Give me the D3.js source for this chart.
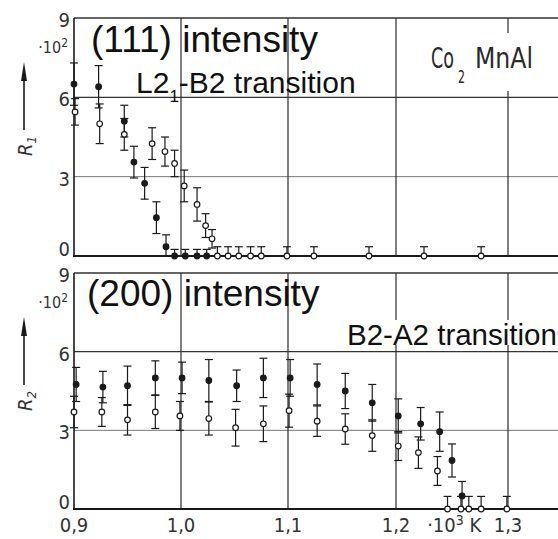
<!DOCTYPE html>
<html>
<head>
<meta charset="utf-8">
<script src="https://cdn.jsdelivr.net/npm/d3@7"></script>
<style>
  body { margin: 0; background: #fff; }
  svg { display: block; }
</style>
</head>
<body>
<svg id="chart" width="558" height="539"></svg>
<script>
// axis ticks
const xTicks = [0.9, 1.0, 1.1, 1.2, 1.3];
const xTickLabels = ["0,9", "1,0", "1,1", "1,2", "1,3"];
const yTicks = [0, 3, 6, 9];

// R1, (111) intensity - filled points
const r1FilledT = [0.900, 0.923, 0.947, 0.956, 0.966, 0.977, 0.986, 0.994, 1.004, 1.015, 1.024];
const r1FilledV = [6.5, 6.4, 5.1, 3.55, 2.75, 1.45, 0.35, 0, 0, 0, 0];
const r1FilledE = [0.8, 0.8, 0.6, 0.6, 0.6, 0.6, 0.45, 0.25, 0.25, 0.25, 0.25];

// R1 - open points
const r1OpenT = [0.901, 0.924, 0.947, 0.973, 0.985, 0.994, 1.003, 1.015, 1.023, 1.029,
                 1.034, 1.044, 1.054, 1.065, 1.075, 1.099, 1.124, 1.175, 1.225, 1.276];
const r1OpenV = [5.45, 5.0, 4.6, 4.25, 3.95, 3.5, 2.65, 1.95, 1.15, 0.65,
                 0, 0, 0, 0, 0, 0, 0, 0, 0, 0];
const r1OpenE = [0.5, 0.75, 0.6, 0.6, 0.55, 0.5, 0.6, 0.63, 0.45, 0.35,
                 0.35, 0.35, 0.35, 0.35, 0.35, 0.35, 0.35, 0.35, 0.35, 0.35];

// R2, (200) intensity - filled points
const r2FilledT = [0.902, 0.927, 0.950, 0.976, 1.001, 1.026, 1.052, 1.077, 1.102, 1.127,
                   1.153, 1.178, 1.202, 1.222, 1.239, 1.250, 1.259];
const r2FilledV = [4.75, 4.65, 4.7, 5.0, 5.0, 4.9, 4.7, 5.0, 5.0, 4.75,
                   4.5, 4.05, 3.55, 3.25, 2.95, 1.85, 0.5];
const r2FilledE = [0.65, 0.6, 0.75, 0.65, 0.6, 0.8, 0.6, 0.75, 0.7, 0.78,
                   0.67, 0.7, 0.65, 0.62, 0.75, 0.63, 0.55];

// R2 - open points
const r2OpenT = [0.900, 0.926, 0.950, 0.976, 0.999, 1.026, 1.051, 1.077, 1.101, 1.127,
                 1.153, 1.178, 1.202, 1.220, 1.237, 1.246, 1.258, 1.265, 1.276, 1.299];
const r2OpenV = [3.7, 3.7, 3.4, 3.7, 3.55, 3.45, 3.1, 3.25, 3.75, 3.35,
                 3.05, 2.8, 2.4, 2.15, 1.45, 0, 0, 0, 0, 0];
const r2OpenE = [0.6, 0.55, 0.58, 0.63, 0.55, 0.63, 0.7, 0.68, 0.63, 0.58,
                 0.58, 0.6, 0.55, 0.6, 0.55, 0.48, 0.48, 0.48, 0.48, 0.48];

const width = 558, height = 539;
const svg = d3.select("#chart");
const ink = "#1a1a1a";
const narrow = "'Liberation Sans Narrow', 'DejaVu Sans Condensed', 'DejaVu Sans', sans-serif";
const arial = "'Liberation Sans', Arial, sans-serif";

// the scanned axis is a little uneven, so each decade gets its own stretch
const x = d3.scaleLinear().domain(xTicks).range([74, 181, 288, 396, 508]);

const panels = [
  { top: 18, bottom: 256, sub: "1", title: "(111) intensity", titleX: 91, titleY: 52,
    filled: [r1FilledT, r1FilledV, r1FilledE], open: [r1OpenT, r1OpenV, r1OpenE] },
  { top: 273, bottom: 509, sub: "2", title: "(200) intensity", titleX: 87, titleY: 306,
    filled: [r2FilledT, r2FilledV, r2FilledE], open: [r2OpenT, r2OpenV, r2OpenE] }
];

function toPoints(s) {
  return s[0].map((t, i) => ({ t: t, v: s[1][i], e: s[2][i] }));
}

function drawPanel(p) {
  const y = d3.scaleLinear().domain([0, 9]).range([p.bottom, p.top]);
  const g = svg.append("g");
  p.g = g; p.y = y;

  // grid
  g.selectAll(".hgrid").data([3, 6]).join("line")
    .attr("x1", x(0.9)).attr("x2", width)
    .attr("y1", d => y(d)).attr("y2", d => y(d))
    .attr("stroke", d => d === 3 ? "#777" : "#333")
    .attr("stroke-width", d => d === 3 ? 1 : 1.2);

  g.selectAll(".vgrid").data(xTicks.slice(1)).join("line")
    .attr("x1", d => x(d)).attr("x2", d => x(d))
    .attr("y1", p.top).attr("y2", p.bottom)
    .attr("stroke", "#2a2a2a").attr("stroke-width", 1.2);

  // frame
  g.append("line").attr("x1", x(0.9)).attr("x2", width).attr("y1", p.top).attr("y2", p.top)
    .attr("stroke", "#333").attr("stroke-width", 1.4);
  g.append("line").attr("x1", x(0.9)).attr("x2", x(0.9)).attr("y1", p.top).attr("y2", p.bottom)
    .attr("stroke", ink).attr("stroke-width", 1.6);
  g.append("line").attr("x1", x(0.9) - 1).attr("x2", width).attr("y1", p.bottom).attr("y2", p.bottom)
    .attr("stroke", ink).attr("stroke-width", 2.2);

  // y tick labels
  g.selectAll(".ylab").data(yTicks).join("text")
    .attr("x", 70)
    .attr("y", d => d === 0 ? y(d) : y(d) + 9)
    .attr("text-anchor", "end")
    .attr("font-family", narrow).attr("font-stretch", "condensed")
    .attr("font-size", 20).attr("fill", "#333")
    .text(d => d);

  const pow = g.append("text")
    .attr("x", 68).attr("y", p.top + 35)
    .attr("text-anchor", "end")
    .attr("font-family", narrow).attr("font-stretch", "condensed")
    .attr("font-size", 16).attr("fill", "#333");
  pow.append("tspan").text("·10");
  pow.append("tspan").attr("dy", -6).attr("font-size", 12).text("2");

  // R arrow
  g.append("line").attr("x1", 24).attr("x2", 24)
    .attr("y1", p.top + 60).attr("y2", p.top + 112)
    .attr("stroke", ink).attr("stroke-width", 1.6);
  g.append("path")
    .attr("d", `M24,${p.top + 44} L27,${p.top + 63} L21,${p.top + 63} Z`)
    .attr("fill", ink);

  const rl = g.append("text")
    .attr("transform", `translate(32,${p.top + 138}) rotate(-90)`)
    .attr("font-family", narrow).attr("font-style", "italic")
    .attr("font-size", 20).attr("fill", "#333");
  rl.append("tspan").text("R");
  rl.append("tspan").attr("dy", 4).attr("font-size", 13).text(p.sub);

  // title
  g.append("text")
    .attr("x", p.titleX).attr("y", p.titleY)
    .attr("font-family", arial).attr("font-size", 37).attr("fill", "#111")
    .text(p.title);
}

function drawSeries(p) {
  const y = p.y;
  const all = [
    { pts: toPoints(p.filled), fill: ink },
    { pts: toPoints(p.open), fill: "#fff" }
  ];
  const layer = p.g.append("g");

  all.forEach(s => {
    const bars = layer.append("g").selectAll("g").data(s.pts).join("g")
      .attr("stroke", ink).attr("stroke-width", 1.2);
    bars.append("line")
      .attr("x1", d => x(d.t)).attr("x2", d => x(d.t))
      .attr("y1", d => y(d.v + d.e)).attr("y2", d => y(Math.max(0, d.v - d.e)));
    bars.append("line")
      .attr("x1", d => x(d.t) - 4).attr("x2", d => x(d.t) + 4)
      .attr("y1", d => y(d.v + d.e)).attr("y2", d => y(d.v + d.e));
    bars.filter(d => d.v - d.e > 0).append("line")
      .attr("x1", d => x(d.t) - 4).attr("x2", d => x(d.t) + 4)
      .attr("y1", d => y(d.v - d.e)).attr("y2", d => y(d.v - d.e));
  });

  all.forEach(s => {
    layer.append("g").selectAll("circle").data(s.pts).join("circle")
      .attr("cx", d => x(d.t)).attr("cy", d => y(d.v))
      .attr("r", 2.8)
      .attr("fill", s.fill).attr("stroke", ink).attr("stroke-width", 1.2);
  });
}

panels.forEach(drawPanel);
panels.forEach(drawSeries);

const topPanel = panels[0], botPanel = panels[1];

// top annotations
const l2 = topPanel.g.append("text")
  .attr("x", 136).attr("y", 93)
  .attr("font-family", arial).attr("font-size", 30).attr("fill", "#111");
l2.append("tspan").text("L2");
l2.append("tspan").attr("dy", 9).attr("font-size", 17).text("1");
l2.append("tspan").attr("dy", -9).text("-B2 transition");

// compound name, set in three pieces so the subscript sits tight
const compound = topPanel.g.append("g")
  .attr("font-family", narrow).attr("font-stretch", "condensed").attr("font-weight", 300)
  .attr("fill", "#2a2a2a");
compound.append("text").attr("x", 431).attr("y", 68).attr("font-size", 29)
  .attr("textLength", 23).attr("lengthAdjust", "spacingAndGlyphs").text("Co");
compound.append("text").attr("x", 458).attr("y", 83).attr("font-size", 18)
  .attr("textLength", 7).attr("lengthAdjust", "spacingAndGlyphs").text("2");
compound.append("text").attr("x", 475).attr("y", 68).attr("font-size", 29)
  .attr("textLength", 58).attr("lengthAdjust", "spacingAndGlyphs").text("MnAl");
{
  // white patch so the 1,3 grid line stops at the label
  const b = compound.node().getBBox();
  compound.insert("rect", "text")
    .attr("x", b.x - 8).attr("y", b.y - 8)
    .attr("width", b.width + 16).attr("height", b.height + 12)
    .attr("fill", "#fff");
}

// bottom annotation
const b2 = botPanel.g.append("g");
b2.append("text")
  .attr("x", 347).attr("y", 345)
  .attr("font-family", arial).attr("font-size", 29.5).attr("fill", "#111")
  .text("B2-A2 transition");
{
  const b = b2.node().getBBox();
  b2.insert("rect", "text")
    .attr("x", b.x - 2).attr("y", b.y + 2)
    .attr("width", b.width + 4).attr("height", b.height - 8)
    .attr("fill", "#fff");
}

// x tick labels
svg.append("g").selectAll("text").data(xTicks).join("text")
  .attr("x", d => x(d))
  .attr("y", 532)
  .attr("text-anchor", "middle")
  .attr("font-family", narrow).attr("font-stretch", "condensed")
  .attr("font-size", 20).attr("fill", "#333")
  .text((d, i) => xTickLabels[i]);

const unit = svg.append("text")
  .attr("x", x(1.252)).attr("y", 532)
  .attr("text-anchor", "middle")
  .attr("font-family", narrow).attr("font-stretch", "condensed")
  .attr("font-size", 20).attr("fill", "#333");
unit.append("tspan").text("·10");
unit.append("tspan").attr("dy", -7).attr("font-size", 14).text("3");
unit.append("tspan").attr("dy", 7).text(" K");
</script>
</body>
</html>
